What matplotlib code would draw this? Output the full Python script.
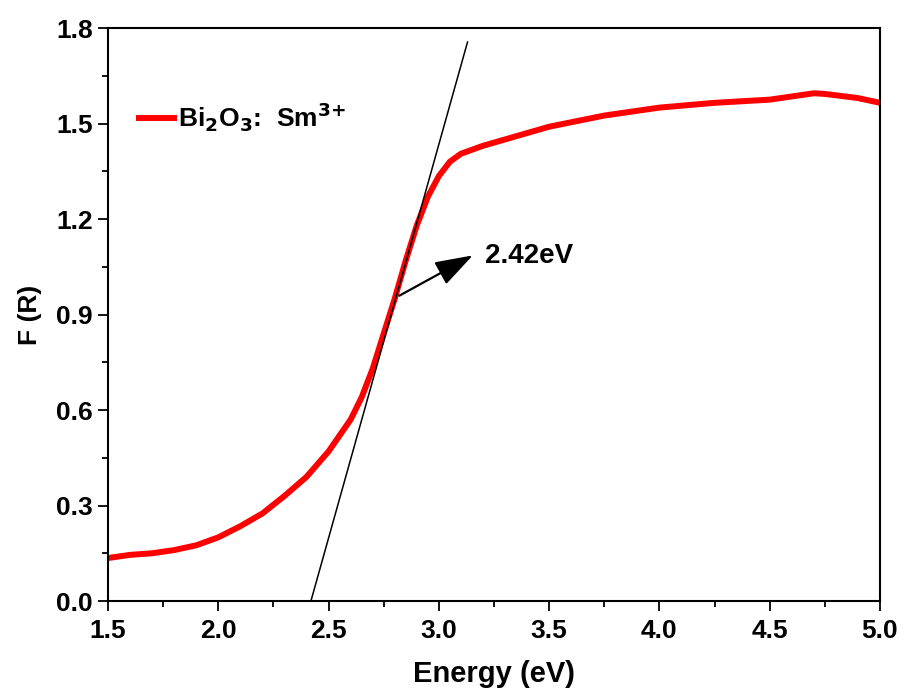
import numpy as np
import matplotlib.pyplot as plt
from matplotlib.ticker import MultipleLocator

# F(R) curve
energy = [1.5, 1.6, 1.7, 1.8, 1.9, 2.0, 2.1, 2.2, 2.3, 2.4, 2.5, 2.55, 2.6, 2.65,
          2.7, 2.75, 2.8, 2.85, 2.9, 2.95, 3.0, 3.05, 3.1, 3.2, 3.3, 3.5, 3.75,
          4.0, 4.25, 4.5, 4.6, 4.7, 4.75, 4.9, 5.0]
fr = [0.135, 0.145, 0.15, 0.16, 0.175, 0.2, 0.235, 0.275, 0.33, 0.39, 0.47, 0.52,
      0.57, 0.64, 0.73, 0.84, 0.95, 1.07, 1.18, 1.27, 1.335, 1.38, 1.405, 1.43,
      1.45, 1.49, 1.525, 1.55, 1.565, 1.575, 1.585, 1.595, 1.593, 1.58, 1.565]

# tangent fit line (intercept at the band gap)
fit_x = [2.42, 3.13]
fit_y = [0.0, 1.756]
gap_label = "2.42eV"

plt.rcParams['font.family'] = ['Liberation Sans', 'DejaVu Sans']
plt.rcParams['font.weight'] = 'bold'
plt.rcParams['mathtext.default'] = 'bf'

fig = plt.figure(figsize=(9.06, 6.97), dpi=100)
ax = fig.add_axes([0.1192, 0.1377, 0.8521, 0.8221])

ax.plot(energy, fr, color='red', lw=4.3, label=r'Bi$_2$O$_3$:  Sm$^{3{+}}$')
ax.plot(fit_x, fit_y, color='black', lw=1.1)

ax.annotate('', xy=(3.165, 1.09), xytext=(2.81, 0.955),
            arrowprops=dict(arrowstyle='-|>,head_width=0.3,head_length=0.9',
                            color='black', lw=1.6, mutation_scale=26))
ax.text(3.21, 1.085, gap_label, fontsize=20, fontweight='bold', va='center')

ax.set_xlim(1.5, 5.0)
ax.set_ylim(0, 1.8)
ax.xaxis.set_major_locator(MultipleLocator(0.5))
ax.xaxis.set_minor_locator(MultipleLocator(0.25))
ax.yaxis.set_major_locator(MultipleLocator(0.3))
ax.yaxis.set_minor_locator(MultipleLocator(0.15))
ax.tick_params(which='major', length=7, width=1.3, direction='out')
ax.tick_params(which='minor', length=4, width=1.3, direction='out')
ax.tick_params(axis='y', labelsize=19, pad=4)
ax.tick_params(axis='x', labelsize=19, pad=6)
for lab in ax.get_xticklabels() + ax.get_yticklabels():
    lab.set_fontweight('bold')
for sp in ax.spines.values():
    sp.set_linewidth(1.5)

ax.set_xlabel('Energy (eV)', fontsize=21, fontweight='bold', labelpad=12)
ax.set_ylabel('F (R)', fontsize=19, fontweight='bold', labelpad=10)

leg = ax.legend(loc='upper left', bbox_to_anchor=(0.01, 0.915), frameon=False,
                handlelength=1.3, handletextpad=0.15,
                prop={'weight': 'bold', 'size': 19})

plt.savefig('out.png', dpi=100)
